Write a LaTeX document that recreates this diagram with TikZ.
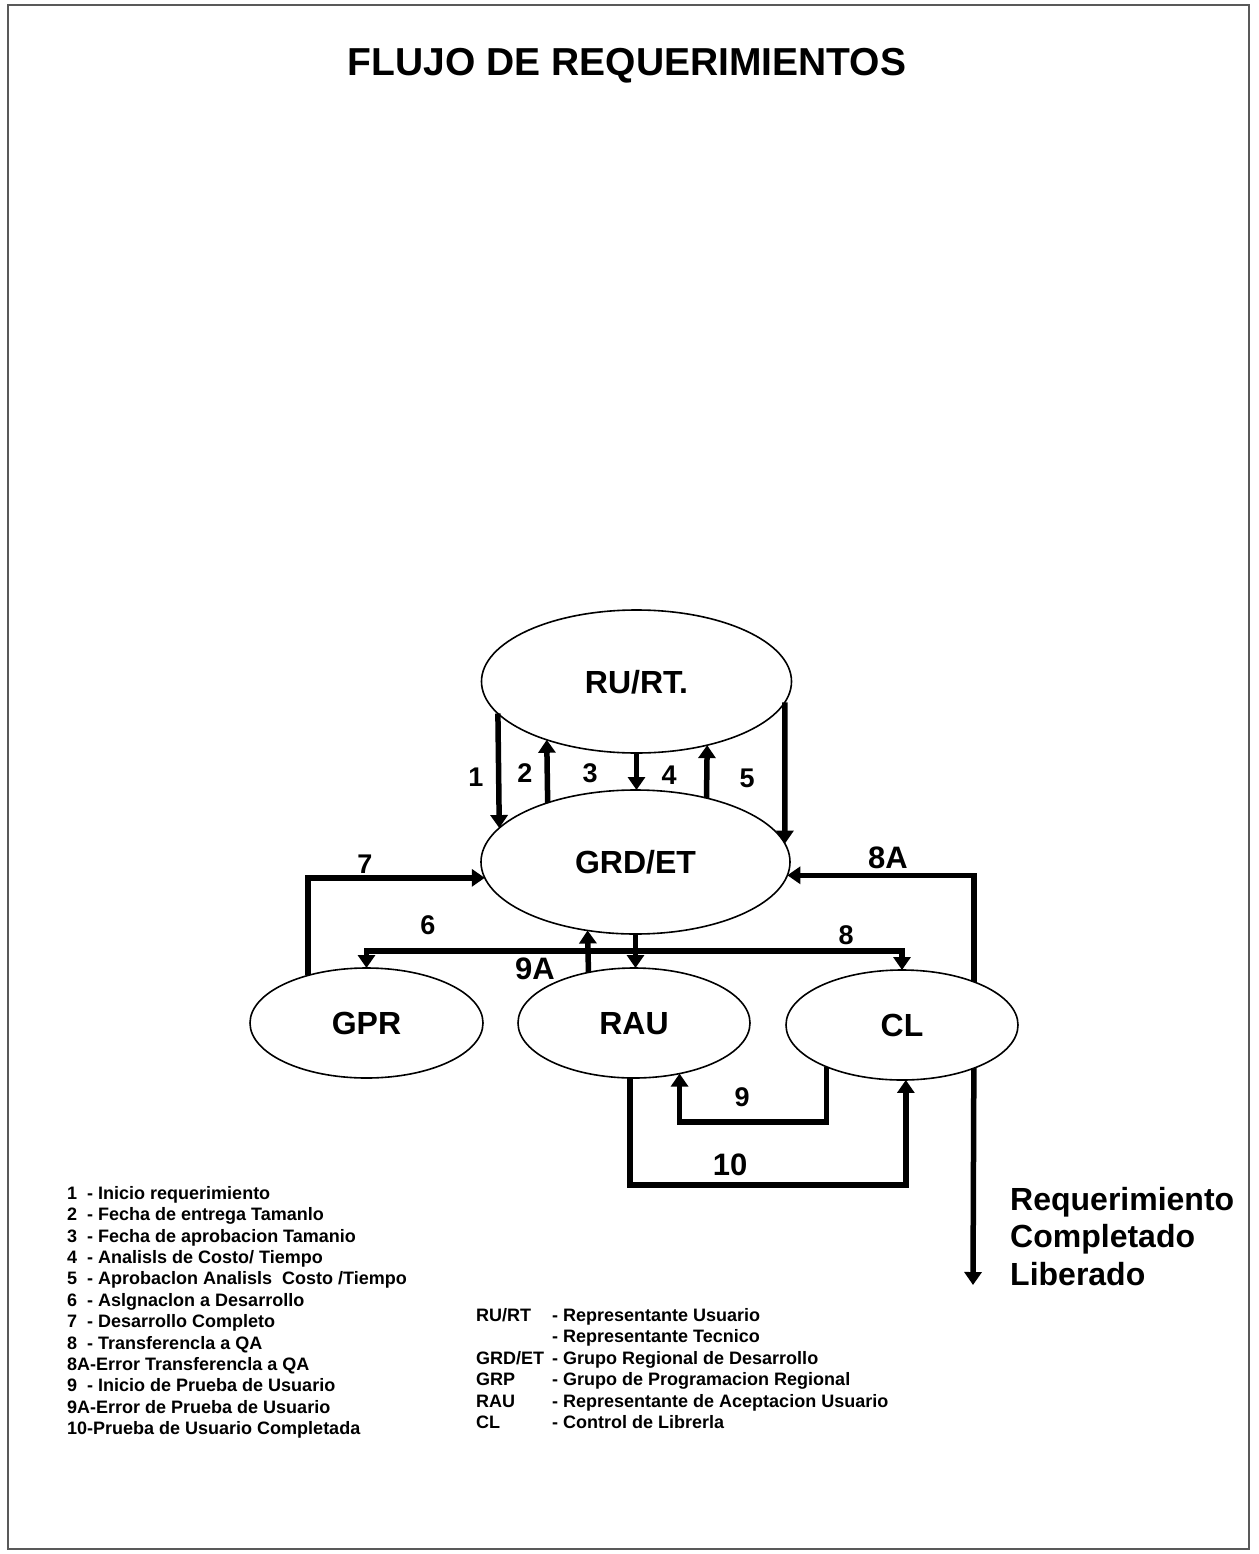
\documentclass[tikz,border=0pt]{standalone}
\usepackage{fontspec}
\setmainfont{Liberation Sans}
\usetikzlibrary{arrows.meta,shapes.geometric}

\tikzset{
  actor/.style={ellipse,draw,line width=1.6pt,inner sep=0pt,outer sep=0pt,
    text depth=0pt,font=\fontsize{32}{38}\selectfont\bfseries},
  flow/.style={line width=5.5pt,-{Triangle[length=13pt,width=17pt]}},
  num/.style={font=\fontsize{27}{32}\selectfont\bfseries},
  bignum/.style={font=\fontsize{31}{36}\selectfont\bfseries},
  legend/.style={anchor=base west,inner sep=0pt,font=\fontsize{18}{21}\selectfont\bfseries}
}

\begin{document}
\begin{tikzpicture}[x=1pt,y=-1pt]
  \useasboundingbox (0,0) rectangle (1258,1554);
  \draw[line width=2.5pt,black!65] (8,5) rectangle (1249,1549);
  \node[font=\fontsize{39}{46}\selectfont\bfseries] (title) at (627,66) {FLUJO DE REQUERIMIENTOS};

  % actores
  \node[actor,minimum width=310pt,minimum height=143pt] (RU) at (636.5,681.5) {RU/RT.};
  \node[actor,minimum width=309pt,minimum height=144pt] (GRD) at (635.5,862) {GRD/ET};
  \node[actor,minimum width=233pt,minimum height=110pt] (GPR) at (366.5,1023) {GPR};
  \node[actor,minimum width=232pt,minimum height=110pt] (RAU) at (634,1023) {RAU};
  \node[actor,minimum width=232pt,minimum height=110pt] (CL) at (902,1025) {CL};

  % RU/RT <-> GRD/ET
  \draw[flow] (RU.193.5) -- (GRD.166.1);
  \draw[flow] (GRD.146.3) -- (RU.213.1);
  \draw[flow] (RU.south) -- (RU.south |- GRD.north);
  \draw[flow] (GRD.42.3) -- (RU.-42.6);
  \draw[flow] (RU.-8.5) -- (GRD.7.6);

  % GRD/ET -> GPR, RAU, CL
  \coordinate (split) at (635.5,951);
  \draw[flow] (GRD.south) -- (GRD.south |- RAU.north);
  \draw[flow] (split) -| (GPR.north);
  \draw[flow] (split) -| (CL.north);
  \draw[flow] (RAU.132.3) -- (GRD.235.3);
  \draw[flow] (GPR.141.5) |- (GRD.186.1);
  \draw[flow] (CL.31.5) |- (GRD.-5.3);

  % RAU <-> CL
  \draw[flow] (CL.209.8) -- ++(0,55) -| (RAU.-48.4);
  \draw[flow] (RAU.266) -- ++(0,107) -| (CL.-86);
  \coordinate (out) at (973,1285);
  \draw[flow] (CL.-31.5) -- (out);

  \foreach \x/\y/\entry in {476/777/1,525/773/2,590/773/3,669/775/4,747/778/5,
                            365/864/7,428/925/6,846/935/8,742/1097/9}
    \node[num] (lab\entry) at (\x,\y) {\entry};
  \foreach \x/\y/\entry in {888/858/8A,535/969/9A,730/1165/10}
    \node[bignum] (lab\entry) at (\x,\y) {\entry};

  \node[anchor=north west,inner sep=0pt,align=left,
        font=\fontsize{32}{37.5}\selectfont\bfseries] (done) at (1010,1187)
        {Requerimiento\\Completado\\Liberado};

  % leyenda de pasos
  \foreach \entry [count=\i from 0] in {1~~- Inicio requerimiento,
      2~~- Fecha de entrega Tamanlo,3~~- Fecha de aprobacion Tamanio,
      4~~- Analisls de Costo/ Tiempo,5~~- Aprobaclon Analisls~~Costo /Tiempo,
      6~~- Aslgnaclon a Desarrollo,7~~- Desarrollo Completo,
      8~~- Transferencla a QA,8A-Error Transferencla a QA,
      9~~- Inicio de Prueba de Usuario,9A-Error de Prueba de Usuario,
      10-Prueba de Usuario Completada}
    \node[legend] (def\i) at (67,1199.5+21.36*\i) {\entry};

  % leyenda de actores
  \foreach \abbr/\entry [count=\i from 0] in {{RU/RT}/- Representante Usuario,
      {}/- Representante Tecnico,{GRD/ET}/- Grupo Regional de Desarrollo,
      GRP/- Grupo de Programacion Regional,
      RAU/- Representante de Aceptacion Usuario,CL/- Control de Librerla}
  {
    \node[legend] (abbr\i) at (476,1321.5+21.4*\i) {\abbr};
    \node[legend] (desc\i) at (552,1321.5+21.4*\i) {\entry};
  }
\end{tikzpicture}
\end{document}
